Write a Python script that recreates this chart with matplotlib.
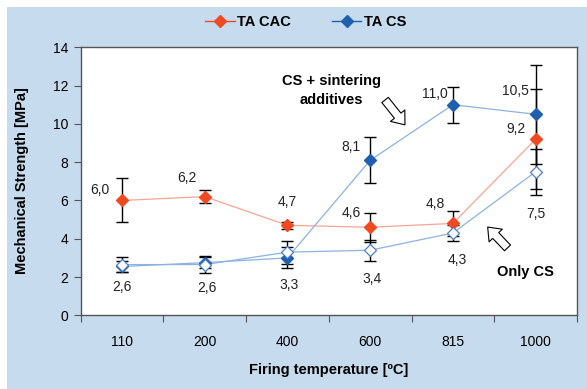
import matplotlib.pyplot as plt
from matplotlib.patches import Rectangle
import numpy as np

plt.rcParams['font.family'] = ['Liberation Sans', 'DejaVu Sans']

# data
temps = ['110', '200', '400', '600', '815', '1000']
ta_cac = [6.0, 6.2, 4.7, 4.6, 4.8, 9.2]
ta_cac_err = [1.15, 0.35, 0.2, 0.75, 0.65, 2.6]
ta_cs = [2.55, 2.75, 3.0, 8.1, 11.0, 10.5]
ta_cs_err = [0.3, 0.3, 0.55, 1.2, 0.95, 2.6]
only_cs = [2.65, 2.65, 3.3, 3.4, 4.3, 7.5]
only_cs_err = [0.4, 0.45, 0.6, 0.55, 0.4, 1.2]

cac_labels = ['6,0', '6,2', '4,7', '4,6', '4,8', '9,2']
cs_labels = ['', '', '', '8,1', '11,0', '10,5']
only_labels = ['2,6', '2,6', '3,3', '3,4', '4,3', '7,5']

# label offsets in pixels (x, y up)
cac_off = [(-22, 10), (-18, 19), (0, 23), (-19, 14), (-18, 19), (-20, 10)]
cs_off = [(0, 0), (0, 0), (0, 0), (-19, 13), (-18, 11), (-20, 23)]
only_off = [(0, -22), (2, -23), (2, -33), (2, -29), (4, -27), (0, -42)]

RED = '#f04a22'
RED_LINE = '#f5a596'
BLUE = '#1f5fae'
BLUE_LINE = '#8db2df'
BG = '#c6dbed'

fig = plt.figure(figsize=(5.87, 3.89), dpi=100)
fig.patches.append(Rectangle((7 / 587, 0), 1, 1 - 7 / 389, transform=fig.transFigure,
                             facecolor=BG, edgecolor='none', zorder=-10))

ax = fig.add_axes([80.7 / 587, 1 - 315.3 / 389, (577 - 80.7) / 587, (315.3 - 47.3) / 389])
ax.set_facecolor('white')
x = np.arange(len(temps))

ekw = dict(ecolor='black', elinewidth=1.0, capsize=4, capthick=1.0, zorder=2)
ax.errorbar(x, only_cs, yerr=only_cs_err, fmt='none', **ekw)
ax.errorbar(x, ta_cac, yerr=ta_cac_err, fmt='none', **ekw)
ax.errorbar(x, ta_cs, yerr=ta_cs_err, fmt='none', **ekw)

ax.plot(x, ta_cac, color=RED_LINE, lw=0.9, zorder=3)
ax.plot(x, ta_cs, color=BLUE_LINE, lw=0.9, zorder=3)
ax.plot(x, only_cs, color=BLUE_LINE, lw=0.9, zorder=3)
ax.plot(x, ta_cac, ls='none', marker='D', ms=6.5, mfc=RED, mec=RED, zorder=4)
ax.plot(x, ta_cs, ls='none', marker='D', ms=6.5, mfc=BLUE, mec=BLUE, zorder=4)
ax.plot(x, only_cs, ls='none', marker='D', ms=6.5, mfc='white', mec='#4a7fc6', mew=0.9, zorder=4)

for vals, labs, offs in [(ta_cac, cac_labels, cac_off), (ta_cs, cs_labels, cs_off),
                         (only_cs, only_labels, only_off)]:
    for xi, v, t, o in zip(x, vals, labs, offs):
        if t:
            ax.annotate(t, (xi, v), xytext=o, textcoords='offset pixels',
                        ha='center', va='center', fontsize=10, color='#222222', zorder=5)

# legend proxies
h1, = ax.plot([], [], color=RED, lw=1.0, marker='D', ms=6, mfc=RED, mec=RED)
h2, = ax.plot([], [], color=BLUE, lw=1.0, marker='D', ms=6, mfc=BLUE, mec=BLUE)
fig.legend([h1, h2], ['TA CAC', 'TA CS'], loc='center', bbox_to_anchor=(306 / 587, 1 - 22.5 / 389),
           ncol=2, frameon=False, prop={'weight': 'bold', 'size': 10.5},
           handlelength=2.0, handletextpad=0.2, columnspacing=2.8)

# hollow block arrows
arrow_style = 'simple,head_length=0.7,head_width=1.1,tail_width=0.5'
ax.annotate('', xy=(3.42, 9.95), xytext=(3.18, 11.25),
            arrowprops=dict(arrowstyle=arrow_style, mutation_scale=12, shrinkA=0, shrinkB=0,
                            fc='white', ec='black', lw=0.8))
ax.annotate('', xy=(4.42, 4.61), xytext=(4.66, 3.52),
            arrowprops=dict(arrowstyle=arrow_style, mutation_scale=12, shrinkA=0, shrinkB=0,
                            fc='white', ec='black', lw=0.8))
ax.text(2.53, 11.73, 'CS + sintering\nadditives', ha='center', va='center',
        fontsize=10.5, fontweight='bold', linespacing=1.45)
ax.text(4.88, 2.28, 'Only CS', ha='center', va='center', fontsize=10.5, fontweight='bold')

ax.set_xlim(-0.5, 5.5)
ax.set_ylim(0, 14)
ax.set_yticks(np.arange(0, 15, 2))
ax.set_xticks(np.arange(-0.5, 6, 1))
ax.set_xticklabels([])
ax.set_xticks(x, minor=True)
ax.set_xticklabels(temps, minor=True)
ax.tick_params(axis='x', which='minor', length=0, pad=14, labelsize=10)
ax.tick_params(axis='x', which='major', length=5, direction='out', color='#555555')
ax.tick_params(axis='y', length=5, direction='out', pad=4, labelsize=10, color='#555555')
for s in ax.spines.values():
    s.set_color('#555555')
    s.set_linewidth(1.0)

fig.text(22 / 587, 1 - 181 / 389, 'Mechanical Strength [MPa]', rotation=90,
         ha='center', va='center', fontsize=10.5, fontweight='bold')
fig.text(329 / 587, 1 - 370 / 389, 'Firing temperature [ºC]', ha='center', va='center',
         fontsize=10.5, fontweight='bold')

fig.savefig('out.png', dpi=100)
